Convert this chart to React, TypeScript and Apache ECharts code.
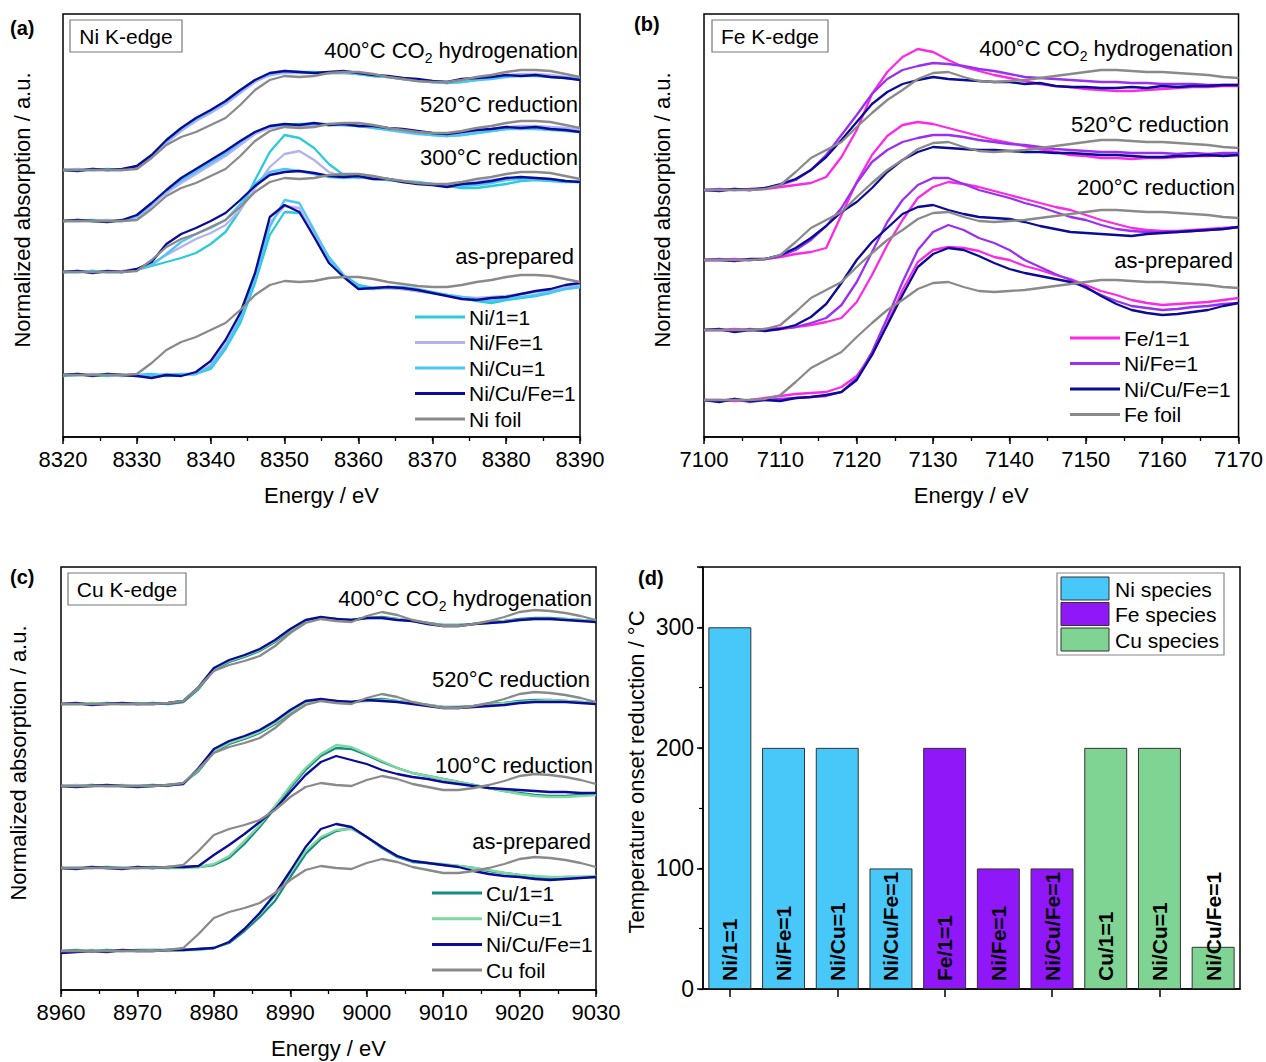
import React, { useEffect, useRef } from "react";
import * as echarts from "echarts";

const FONT = "'Liberation Sans', Arial, Helvetica, sans-serif";

// ---------- (a) Ni K-edge ----------
const niEnergy = [8320, 8322, 8324, 8326, 8328, 8330, 8332, 8334, 8336, 8338, 8340, 8342, 8344, 8346, 8348, 8350, 8352, 8354, 8356, 8358, 8360, 8362, 8364, 8366, 8368, 8370, 8372, 8374, 8376, 8378, 8380, 8382, 8384, 8386, 8388, 8390];
const niGroupOffsets = [62, 165, 216, 267]; // as-prepared, 300°C red., 520°C red., 400°C CO2 hydr.
const niFoil = [0, 0, 0, 0, 0, 1, 12, 25, 33, 38, 45, 52, 65, 80, 90, 94, 93, 94, 97, 98, 98, 96, 93, 91, 89, 88, 88, 90, 93, 95, 98, 100, 100, 99, 96, 93];
const ni_Ni1_asp = [0, 1, 0, -1, 0, 0, 1, -1, 0, 1, 6, 26, 52, 92, 140, 163, 162, 143, 118, 100, 90, 87, 87, 86, 84, 82, 80, 77, 74, 72, 75, 77, 79, 82, 86, 88];
const ni_NiFe_asp = [0, 0, 1, 0, -1, 0, -1, 1, 0, 1, 10, 30, 58, 98, 152, 169, 167, 140, 114, 99, 87, 86, 87, 86, 84, 82, 80, 78, 77, 78, 79, 81, 83, 85, 88, 90];
const ni_NiCu_asp = [-1, 0, 0, 1, 0, -1, 0, 0, 1, 1, 8, 28, 56, 96, 148, 175, 172, 145, 117, 99, 88, 86, 88, 88, 86, 83, 80, 78, 76, 74, 77, 78, 80, 83, 86, 88];
const ni_NiCuFe_asp = [0, 1, -1, 1, 0, -1, -3, 0, -1, 3, 14, 35, 62, 102, 158, 170, 163, 138, 112, 98, 86, 87, 88, 87, 85, 82, 79, 76, 75, 77, 78, 81, 84, 86, 90, 92];
const ni_Ni1_r300 = [0, 0, 1, 0, 0, 2, 6, 10, 14, 19, 28, 40, 62, 92, 120, 137, 134, 124, 108, 97, 94, 95, 93, 91, 90, 88, 86, 84, 84, 86, 88, 91, 92, 91, 90, 90];
const ni_NiFe_r300 = [0, 1, 0, 0, 1, 3, 8, 17, 25, 33, 39, 47, 62, 84, 105, 118, 121, 112, 100, 95, 95, 94, 92, 91, 89, 88, 87, 88, 90, 92, 93, 94, 94, 93, 91, 90];
const ni_NiCu_r300 = [0, 0, 1, 0, 0, 2, 7, 18, 30, 38, 44, 52, 68, 88, 100, 103, 101, 98, 95, 94, 95, 93, 92, 90, 89, 88, 86, 86, 87, 89, 92, 93, 93, 92, 91, 90];
const ni_NiCuFe_r300 = [0, 1, -1, 1, 0, 3, 10, 28, 38, 44, 51, 59, 72, 86, 97, 100, 101, 99, 96, 95, 96, 93, 93, 90, 88, 87, 85, 88, 89, 91, 94, 95, 94, 93, 91, 90];
const ni_Ni1_r520 = [0, 0, 1, 0, 0, 4, 16, 29, 40, 49, 58, 67, 78, 88, 94, 96, 97, 97, 96, 96, 95, 94, 92, 90, 88, 86, 85, 86, 88, 90, 92, 93, 93, 92, 91, 90];
const ni_NiFe_r520 = [0, 0, 0, 1, 0, 4, 15, 28, 38, 47, 56, 65, 76, 87, 93, 95, 95, 96, 96, 96, 95, 94, 92, 91, 89, 88, 87, 88, 90, 92, 94, 95, 95, 94, 93, 91];
const ni_NiCu_r520 = [0, 1, 0, 0, 0, 5, 17, 30, 41, 50, 59, 68, 79, 89, 95, 96, 96, 97, 97, 96, 95, 93, 91, 89, 87, 86, 85, 86, 88, 90, 92, 92, 92, 91, 90, 89];
const ni_NiCuFe_r520 = [0, 1, 0, -1, 1, 6, 18, 31, 43, 52, 61, 70, 80, 89, 95, 97, 96, 98, 96, 97, 95, 95, 93, 92, 90, 88, 87, 89, 91, 92, 94, 93, 94, 92, 91, 89];
const ni_Ni1_co2 = [0, 0, 0, 1, 0, 3, 14, 28, 40, 50, 58, 67, 78, 89, 95, 98, 98, 98, 97, 97, 96, 94, 93, 91, 89, 88, 87, 88, 90, 92, 94, 95, 95, 94, 92, 91];
const ni_NiFe_co2 = [0, 1, 0, 0, 0, 3, 13, 27, 39, 49, 57, 66, 77, 88, 95, 97, 97, 97, 97, 97, 96, 95, 93, 92, 90, 89, 88, 89, 91, 93, 95, 96, 96, 95, 93, 92];
const ni_NiCu_co2 = [0, 0, 1, 0, 0, 4, 15, 29, 41, 51, 59, 68, 79, 90, 96, 99, 98, 97, 97, 98, 96, 94, 93, 91, 90, 88, 87, 88, 90, 91, 93, 94, 94, 93, 92, 91];
const ni_NiCuFe_co2 = [0, -1, 1, 0, 1, 4, 15, 30, 42, 52, 60, 69, 80, 90, 97, 99, 98, 97, 98, 99, 97, 95, 94, 92, 91, 89, 88, 91, 92, 93, 95, 94, 95, 93, 92, 90];

// ---------- (b) Fe K-edge ----------
const feEnergy = [7100, 7102, 7104, 7106, 7108, 7110, 7112, 7114, 7116, 7118, 7120, 7122, 7124, 7126, 7128, 7130, 7132, 7134, 7136, 7138, 7140, 7142, 7144, 7146, 7148, 7150, 7152, 7154, 7156, 7158, 7160, 7162, 7164, 7166, 7168, 7170];
const feGroupOffsets = [37, 107, 177, 247]; // as-prepared, 200°C red., 520°C red., 400°C CO2 hydr.
const feFoil = [0, 0, 0, 0, 1, 5, 18, 32, 40, 48, 63, 77, 90, 100, 111, 117, 118, 113, 109, 108, 109, 110, 112, 114, 116, 118, 120, 120, 119, 118, 118, 117, 116, 115, 113, 112];
const fe_Fe1_asp = [0, 0, -1, 0, 2, 4, 6, 7, 8, 13, 24, 45, 76, 110, 138, 150, 153, 152, 149, 143, 140, 134, 130, 125, 121, 115, 109, 105, 100, 97, 95, 96, 97, 98, 100, 102];
const fe_NiFe_asp = [0, -1, 1, -2, 0, 1, 2, 3, 4, 8, 22, 48, 82, 118, 150, 168, 175, 170, 162, 157, 150, 140, 133, 126, 120, 112, 105, 99, 94, 92, 90, 91, 93, 94, 96, 97];
const fe_NiCuFe_asp = [0, -2, 1, -1, 0, -1, 2, 3, 5, 8, 20, 45, 75, 105, 133, 146, 152, 150, 144, 137, 131, 127, 124, 121, 118, 113, 104, 96, 90, 87, 85, 86, 88, 90, 94, 97];
const fe_Fe1_r200 = [0, 0, 1, 0, 1, 2, 3, 5, 8, 12, 28, 55, 85, 110, 132, 143, 148, 146, 143, 139, 135, 131, 127, 123, 120, 115, 110, 106, 102, 100, 99, 99, 100, 101, 102, 103];
const fe_NiFe_r200 = [0, 0, -1, 1, 0, 1, 3, 7, 12, 25, 48, 78, 108, 130, 145, 152, 152, 146, 140, 136, 132, 127, 123, 118, 113, 110, 105, 101, 99, 98, 98, 98, 99, 100, 101, 103];
const fe_NiCuFe_r200 = [0, 1, -2, 0, -1, 1, 5, 13, 26, 47, 70, 88, 102, 116, 123, 125, 120, 116, 113, 112, 111, 108, 104, 101, 98, 97, 96, 95, 94, 96, 97, 98, 99, 100, 101, 103];
const fe_Fe1_r520 = [0, 0, 1, 0, 1, 3, 6, 8, 12, 45, 78, 105, 124, 135, 138, 136, 132, 128, 124, 120, 117, 114, 111, 108, 105, 104, 102, 102, 101, 102, 102, 103, 104, 104, 105, 105];
const fe_NiFe_r520 = [0, 1, 0, 0, 1, 4, 10, 20, 34, 52, 77, 98, 110, 118, 122, 125, 125, 123, 120, 118, 116, 115, 113, 111, 110, 109, 108, 108, 107, 107, 107, 106, 107, 106, 107, 107];
const fe_NiCuFe_r520 = [0, 0, -1, 1, 1, 5, 12, 22, 34, 48, 58, 72, 88, 100, 108, 113, 112, 111, 110, 110, 109, 108, 108, 107, 107, 106, 105, 105, 104, 103, 103, 104, 104, 105, 104, 105];
const fe_Fe1_co2 = [0, 0, 1, 0, 1, 3, 5, 7, 13, 33, 60, 96, 118, 133, 141, 138, 130, 123, 119, 115, 112, 109, 106, 104, 103, 101, 100, 99, 99, 100, 101, 102, 103, 103, 104, 104];
const fe_NiFe_co2 = [0, 1, 0, 1, 2, 5, 10, 20, 35, 55, 75, 96, 111, 120, 124, 127, 126, 124, 121, 119, 116, 113, 112, 111, 110, 109, 108, 108, 107, 107, 106, 106, 106, 105, 105, 105];
const fe_NiCuFe_co2 = [0, -1, 1, 0, 2, 6, 11, 20, 33, 50, 68, 86, 98, 106, 110, 113, 111, 110, 109, 108, 108, 106, 107, 104, 103, 103, 102, 102, 103, 102, 104, 103, 104, 104, 105, 105];

// ---------- (c) Cu K-edge ----------
const cuEnergy = [8960, 8962, 8964, 8966, 8968, 8970, 8972, 8974, 8976, 8978, 8980, 8982, 8984, 8986, 8988, 8990, 8992, 8994, 8996, 8998, 9000, 9002, 9004, 9006, 9008, 9010, 9012, 9014, 9016, 9018, 9020, 9022, 9024, 9026, 9028, 9030];
const cuGroupOffsets = [39, 122, 204, 286]; // as-prepared, 100°C red., 520°C red., 400°C CO2 hydr.
const cuFoil = [0, 0, 0, 0, 0, 0, 0, 1, 3, 17, 33, 39, 43, 48, 58, 71, 81, 85, 83, 82, 88, 92, 89, 84, 81, 78, 78, 80, 83, 87, 92, 94, 93, 91, 88, 84];
const cu_Cu1_asp = [0, 1, 0, 1, 0, 1, 1, 1, 1, 2, 3, 8, 20, 34, 50, 74, 97, 112, 120, 123, 114, 103, 94, 89, 88, 86, 85, 83, 80, 78, 76, 74, 73, 74, 74, 74];
const cu_NiCu_asp = [0, 0, 1, 0, 0, 0, 1, 0, 1, 1, 3, 9, 22, 37, 55, 78, 100, 114, 121, 122, 114, 104, 95, 90, 88, 87, 85, 83, 81, 78, 76, 75, 74, 74, 74, 75];
const cu_NiCuFe_asp = [-2, -1, 0, -1, 1, 0, 0, 1, 1, 2, 3, 9, 22, 38, 57, 80, 104, 122, 127, 124, 114, 104, 95, 90, 88, 86, 84, 80, 77, 75, 74, 72, 71, 72, 73, 74];
const cu_Cu1_r100 = [0, 0, 0, 1, 0, 0, 1, 0, 1, 1, 3, 10, 24, 41, 60, 80, 98, 112, 120, 119, 113, 106, 100, 95, 92, 89, 86, 83, 80, 77, 75, 73, 72, 72, 73, 74];
const cu_NiCu_r100 = [0, 0, 1, 0, 0, 1, 0, 0, 0, 1, 4, 12, 27, 43, 62, 82, 100, 114, 123, 121, 114, 107, 100, 95, 92, 89, 86, 83, 80, 77, 74, 72, 71, 71, 72, 73];
const cu_NiCuFe_r100 = [0, -1, 1, 0, -1, 1, 0, 1, 1, 2, 13, 23, 34, 46, 59, 76, 93, 106, 112, 108, 104, 98, 94, 91, 89, 86, 84, 82, 80, 79, 78, 77, 76, 76, 75, 75];
const cu_Cu1_r520 = [0, 0, 1, 0, 0, 0, 1, 0, 3, 15, 34, 42, 47, 53, 62, 73, 82, 86, 85, 84, 86, 87, 85, 83, 81, 79, 79, 80, 82, 83, 85, 86, 86, 85, 84, 83];
const cu_NiCu_r520 = [0, 1, 0, 0, 1, 0, 0, 1, 2, 16, 35, 43, 48, 54, 63, 74, 83, 86, 85, 84, 85, 86, 85, 83, 81, 79, 78, 80, 81, 83, 84, 85, 86, 85, 84, 83];
const cu_NiCuFe_r520 = [0, -1, 0, 1, 0, -1, 0, 1, 2, 18, 37, 45, 50, 56, 65, 76, 85, 87, 85, 84, 86, 85, 84, 82, 80, 78, 78, 79, 80, 81, 83, 84, 84, 84, 83, 82];
const cu_Cu1_co2 = [0, 0, 0, 1, 0, 0, 1, 0, 2, 15, 34, 42, 47, 53, 62, 73, 82, 86, 85, 84, 86, 87, 85, 83, 81, 79, 79, 80, 82, 83, 85, 86, 86, 85, 84, 83];
const cu_NiCu_co2 = [0, 0, 1, 0, 0, 1, 0, 1, 3, 16, 35, 43, 48, 54, 63, 74, 83, 86, 85, 84, 86, 86, 85, 83, 80, 79, 79, 80, 81, 83, 84, 85, 85, 85, 84, 83];
const cu_NiCuFe_co2 = [0, 1, -1, 0, 1, 0, 0, 1, 3, 17, 36, 44, 49, 55, 64, 75, 84, 87, 85, 84, 86, 86, 84, 83, 80, 78, 78, 80, 81, 82, 84, 85, 85, 84, 83, 82];

// ---------- (d) onset reduction temperatures ----------
const onsetCategories = ["Ni/1=1", "Ni/Fe=1", "Ni/Cu=1", "Ni/Cu/Fe=1", "Fe/1=1", "Ni/Fe=1", "Ni/Cu/Fe=1", "Cu/1=1", "Ni/Cu=1", "Ni/Cu/Fe=1"];
const onsetTemps = [300, 200, 200, 100, 200, 100, 100, 200, 200, 35];
const onsetSpecies = ["Ni", "Ni", "Ni", "Ni", "Fe", "Fe", "Fe", "Cu", "Cu", "Cu"];
const speciesNames = ["Ni species", "Fe species", "Cu species"];
const speciesKeys = ["Ni", "Fe", "Cu"];
const onsetTicks = [0, 100, 200, 300];

// ---------- styles ----------
const NAVY = "#0b0b96";
const GRAY = "#8a8a8a";

type Sample = { name: string; color: string; groups: number[][] };

const niSamples: Sample[] = [
  { name: "Ni/1=1", color: "#2ccbd8", groups: [ni_Ni1_asp, ni_Ni1_r300, ni_Ni1_r520, ni_Ni1_co2] },
  { name: "Ni/Fe=1", color: "#b2b2f2", groups: [ni_NiFe_asp, ni_NiFe_r300, ni_NiFe_r520, ni_NiFe_co2] },
  { name: "Ni/Cu=1", color: "#4ec6f5", groups: [ni_NiCu_asp, ni_NiCu_r300, ni_NiCu_r520, ni_NiCu_co2] },
  { name: "Ni/Cu/Fe=1", color: NAVY, groups: [ni_NiCuFe_asp, ni_NiCuFe_r300, ni_NiCuFe_r520, ni_NiCuFe_co2] },
  { name: "Ni foil", color: GRAY, groups: [niFoil, niFoil, niFoil, niFoil] },
];
const feSamples: Sample[] = [
  { name: "Fe/1=1", color: "#fb2ae6", groups: [fe_Fe1_asp, fe_Fe1_r200, fe_Fe1_r520, fe_Fe1_co2] },
  { name: "Ni/Fe=1", color: "#9a30f0", groups: [fe_NiFe_asp, fe_NiFe_r200, fe_NiFe_r520, fe_NiFe_co2] },
  { name: "Ni/Cu/Fe=1", color: NAVY, groups: [fe_NiCuFe_asp, fe_NiCuFe_r200, fe_NiCuFe_r520, fe_NiCuFe_co2] },
  { name: "Fe foil", color: GRAY, groups: [feFoil, feFoil, feFoil, feFoil] },
];
const cuSamples: Sample[] = [
  { name: "Cu/1=1", color: "#168a84", groups: [cu_Cu1_asp, cu_Cu1_r100, cu_Cu1_r520, cu_Cu1_co2] },
  { name: "Ni/Cu=1", color: "#7ed8a0", groups: [cu_NiCu_asp, cu_NiCu_r100, cu_NiCu_r520, cu_NiCu_co2] },
  { name: "Ni/Cu/Fe=1", color: NAVY, groups: [cu_NiCuFe_asp, cu_NiCuFe_r100, cu_NiCuFe_r520, cu_NiCuFe_co2] },
  { name: "Cu foil", color: GRAY, groups: [cuFoil, cuFoil, cuFoil, cuFoil] },
];
const speciesColors: Record<string, string> = { Ni: "#48c8f8", Fe: "#9018f8", Cu: "#7fd393" };

function spectraSeries(key: string, idx: number, energy: number[], offsets: number[], samples: Sample[]) {
  const out: any[] = [];
  samples.forEach((s) => {
    s.groups.forEach((vals, g) => {
      out.push({
        type: "line",
        name: key + "|" + s.name,
        xAxisIndex: idx,
        yAxisIndex: idx,
        data: energy.map((e, i) => [e, vals[i] + offsets[g]]),
        symbol: "none",
        showSymbol: false,
        silent: true,
        lineStyle: { color: s.color, width: 2.3 },
        itemStyle: { color: s.color },
      });
    });
  });
  return out;
}

function energyAxis(idx: number, min: number, max: number) {
  return {
    type: "value",
    gridIndex: idx,
    position: "bottom",
    min,
    max,
    interval: 10,
    axisLine: { show: true, onZero: false, lineStyle: { color: "#000", width: 1.5 } },
    axisTick: { show: true, inside: false, length: 7, lineStyle: { color: "#000", width: 1.5 } },
    axisLabel: { fontSize: 22, color: "#000", fontFamily: FONT, margin: 11, formatter: (v: number) => String(v) },
    splitLine: { show: false },
    name: "Energy / eV",
    nameLocation: "middle",
    nameGap: 47,
    nameTextStyle: { fontSize: 22, color: "#000", fontFamily: FONT },
  };
}

// secondary axis that only draws the short 5 eV ticks
function minorEnergyAxis(idx: number, min: number, max: number) {
  return {
    type: "value",
    gridIndex: idx,
    position: "bottom",
    min,
    max,
    interval: 5,
    axisLine: { show: false, onZero: false },
    axisTick: { show: true, inside: false, length: 4, lineStyle: { color: "#000", width: 1.3 } },
    axisLabel: { show: false },
    splitLine: { show: false },
  };
}

function hiddenY(idx: number) {
  return { type: "value", gridIndex: idx, min: 0, max: 423, show: false, splitLine: { show: false } };
}

function legendGraphics(samples: Sample[], x: number, y0: number, gap: number) {
  const els: any[] = [];
  samples.forEach((s, k) => {
    const y = y0 + k * gap;
    els.push({ type: "line", shape: { x1: x, y1: y, x2: x + 50, y2: y }, style: { stroke: s.color, lineWidth: 3 } });
    els.push({ type: "text", x: x + 54, y, style: { text: s.name, font: `21px ${FONT}`, fill: "#000", align: "left", verticalAlign: "middle" } });
  });
  return els;
}

function txt(text: string, x: number, y: number, align = "right", size = 22, weight = "normal") {
  return { type: "text", x, y, style: { text, font: `${weight} ${size}px ${FONT}`, fill: "#000", align, verticalAlign: "middle" } };
}

function co2Label(x: number, y: number) {
  return {
    type: "text",
    x,
    y,
    style: {
      text: "{n|400°C CO}{s|2}{n| hydrogenation}",
      align: "right",
      verticalAlign: "middle",
      rich: {
        n: { fontSize: 22, fontFamily: FONT, fill: "#000", color: "#000", lineHeight: 30 },
        s: { fontSize: 14, fontFamily: FONT, fill: "#000", color: "#000", lineHeight: 14, verticalAlign: "bottom" },
      },
    },
  };
}

function boxLabel(text: string, x: number, y: number, w: number, h: number) {
  return [
    { type: "rect", shape: { x, y, width: w, height: h }, style: { fill: "#fff", stroke: "#777", lineWidth: 1.2 } },
    { type: "text", x: x + w / 2, y: y + h / 2, style: { text, font: `21px ${FONT}`, fill: "#000", align: "center", verticalAlign: "middle" } },
  ];
}

function vTitle(text: string, x: number, y: number) {
  return { type: "text", x, y, rotation: Math.PI / 2, style: { text, font: `22px ${FONT}`, fill: "#000", align: "center", verticalAlign: "middle" } };
}

export default function App() {
  const ref = useRef<HTMLDivElement>(null);
  useEffect(() => {
    document.body.style.margin = "0";
    if (!ref.current) return;
    const chart = echarts.init(ref.current, null, { renderer: "svg", width: 1266, height: 1062 });

    const barSeries = speciesKeys.map((k, si) => ({
      type: "bar",
      name: speciesNames[si],
      xAxisIndex: 3,
      yAxisIndex: 3,
      stack: "onset",
      barWidth: "80%",
      data: onsetTemps.map((v, i) => (onsetSpecies[i] === k ? v : "-")),
      itemStyle: { color: speciesColors[k], borderColor: "#333", borderWidth: 1 },
      label: {
        show: true,
        position: "insideBottom",
        rotate: 90,
        align: "left",
        verticalAlign: "middle",
        distance: 8,
        fontSize: 21,
        fontWeight: "bold",
        fontFamily: FONT,
        color: "#000",
        formatter: (p: any) => onsetCategories[p.dataIndex],
      },
      silent: true,
    }));

    const graphics: any[] = [
      txt("(a)", 10, 28, "left", 20, "bold"),
      txt("(b)", 634, 24, "left", 20, "bold"),
      txt("(c)", 10, 577, "left", 20, "bold"),
      txt("(d)", 638, 578, "left", 20, "bold"),
      ...boxLabel("Ni K-edge", 70, 20, 112, 32),
      ...boxLabel("Fe K-edge", 712, 20, 116, 32),
      ...boxLabel("Cu K-edge", 68, 573, 118, 32),
      co2Label(578, 50),
      txt("520°C reduction", 578, 104),
      txt("300°C reduction", 578, 157),
      txt("as-prepared", 574, 256),
      co2Label(1233, 48),
      txt("520°C reduction", 1229, 124),
      txt("200°C reduction", 1235, 187),
      txt("as-prepared", 1233, 260),
      co2Label(592, 598),
      txt("520°C reduction", 590, 679),
      txt("100°C reduction", 593, 765),
      txt("as-prepared", 591, 841),
      ...legendGraphics(niSamples, 415, 317, 25.5),
      ...legendGraphics(feSamples, 1070, 338, 25.5),
      ...legendGraphics(cuSamples, 432, 893, 25.7),
      vTitle("Normalized absorption / a.u.", 22, 210),
      vTitle("Normalized absorption / a.u.", 662, 210),
      vTitle("Normalized absorption / a.u.", 18, 763),
      vTitle("Temperature onset reduction / °C", 636, 772),
      { type: "rect", shape: { x: 1057, y: 573, width: 167, height: 82 }, style: { fill: "#fff", stroke: "#888", lineWidth: 1.2 } },
    ];
    speciesKeys.forEach((k, i) => {
      const y = 577 + i * 25.5;
      graphics.push({ type: "rect", shape: { x: 1061, y, width: 48, height: 23 }, style: { fill: speciesColors[k], stroke: "#333", lineWidth: 1 } });
      graphics.push({ type: "text", x: 1115, y: y + 12, style: { text: speciesNames[i], font: `21px ${FONT}`, fill: "#000", align: "left", verticalAlign: "middle" } });
    });

    const gridStyle = { show: true, borderColor: "#000", borderWidth: 1.5, backgroundColor: "transparent", containLabel: false };

    chart.setOption({
      animation: false,
      backgroundColor: "#fff",
      textStyle: { fontFamily: FONT },
      grid: [
        { ...gridStyle, left: 63, top: 14, width: 517, height: 423 },
        { ...gridStyle, left: 704, top: 14, width: 536, height: 423 },
        { ...gridStyle, left: 61, top: 567, width: 535, height: 423 },
        { ...gridStyle, left: 703, top: 567, width: 537, height: 422 },
      ],
      xAxis: [
        energyAxis(0, 8320, 8390),
        energyAxis(1, 7100, 7170),
        energyAxis(2, 8960, 9030),
        {
          type: "category",
          gridIndex: 3,
          data: onsetCategories,
          axisLine: { show: true, lineStyle: { color: "#000", width: 1.5 } },
          axisTick: { show: true, alignWithLabel: true, inside: false, length: 8, lineStyle: { color: "#000", width: 1.5 } },
          axisLabel: { show: false },
          splitLine: { show: false },
        },
        minorEnergyAxis(0, 8320, 8390),
        minorEnergyAxis(1, 7100, 7170),
        minorEnergyAxis(2, 8960, 9030),
      ],
      yAxis: [
        hiddenY(0),
        hiddenY(1),
        hiddenY(2),
        {
          type: "value",
          gridIndex: 3,
          position: "left",
          min: 0,
          max: 350,
          interval: 100,
          axisLine: { show: true, lineStyle: { color: "#000", width: 1.5 } },
          axisTick: { show: true, inside: false, length: 6, lineStyle: { color: "#000", width: 1.5 } },
          axisLabel: {
            fontSize: 23,
            color: "#000",
            fontFamily: FONT,
            margin: 9,
            formatter: (v: number) => (onsetTicks.indexOf(v) >= 0 ? String(v) : ""),
          },
          splitLine: { show: false },
        },
        {
          type: "value",
          gridIndex: 3,
          position: "left",
          min: 0,
          max: 350,
          interval: 50,
          axisLine: { show: false },
          axisTick: { show: true, inside: false, length: 4, lineStyle: { color: "#000", width: 1.2 } },
          axisLabel: { show: false },
          splitLine: { show: false },
        },
      ],
      series: [
        ...spectraSeries("a", 0, niEnergy, niGroupOffsets, niSamples),
        ...spectraSeries("b", 1, feEnergy, feGroupOffsets, feSamples),
        ...spectraSeries("c", 2, cuEnergy, cuGroupOffsets, cuSamples),
        ...barSeries,
      ],
      graphic: graphics,
    });
    return () => chart.dispose();
  }, []);
  return <div ref={ref} style={{ width: 1266, height: 1062 }} />;
}
